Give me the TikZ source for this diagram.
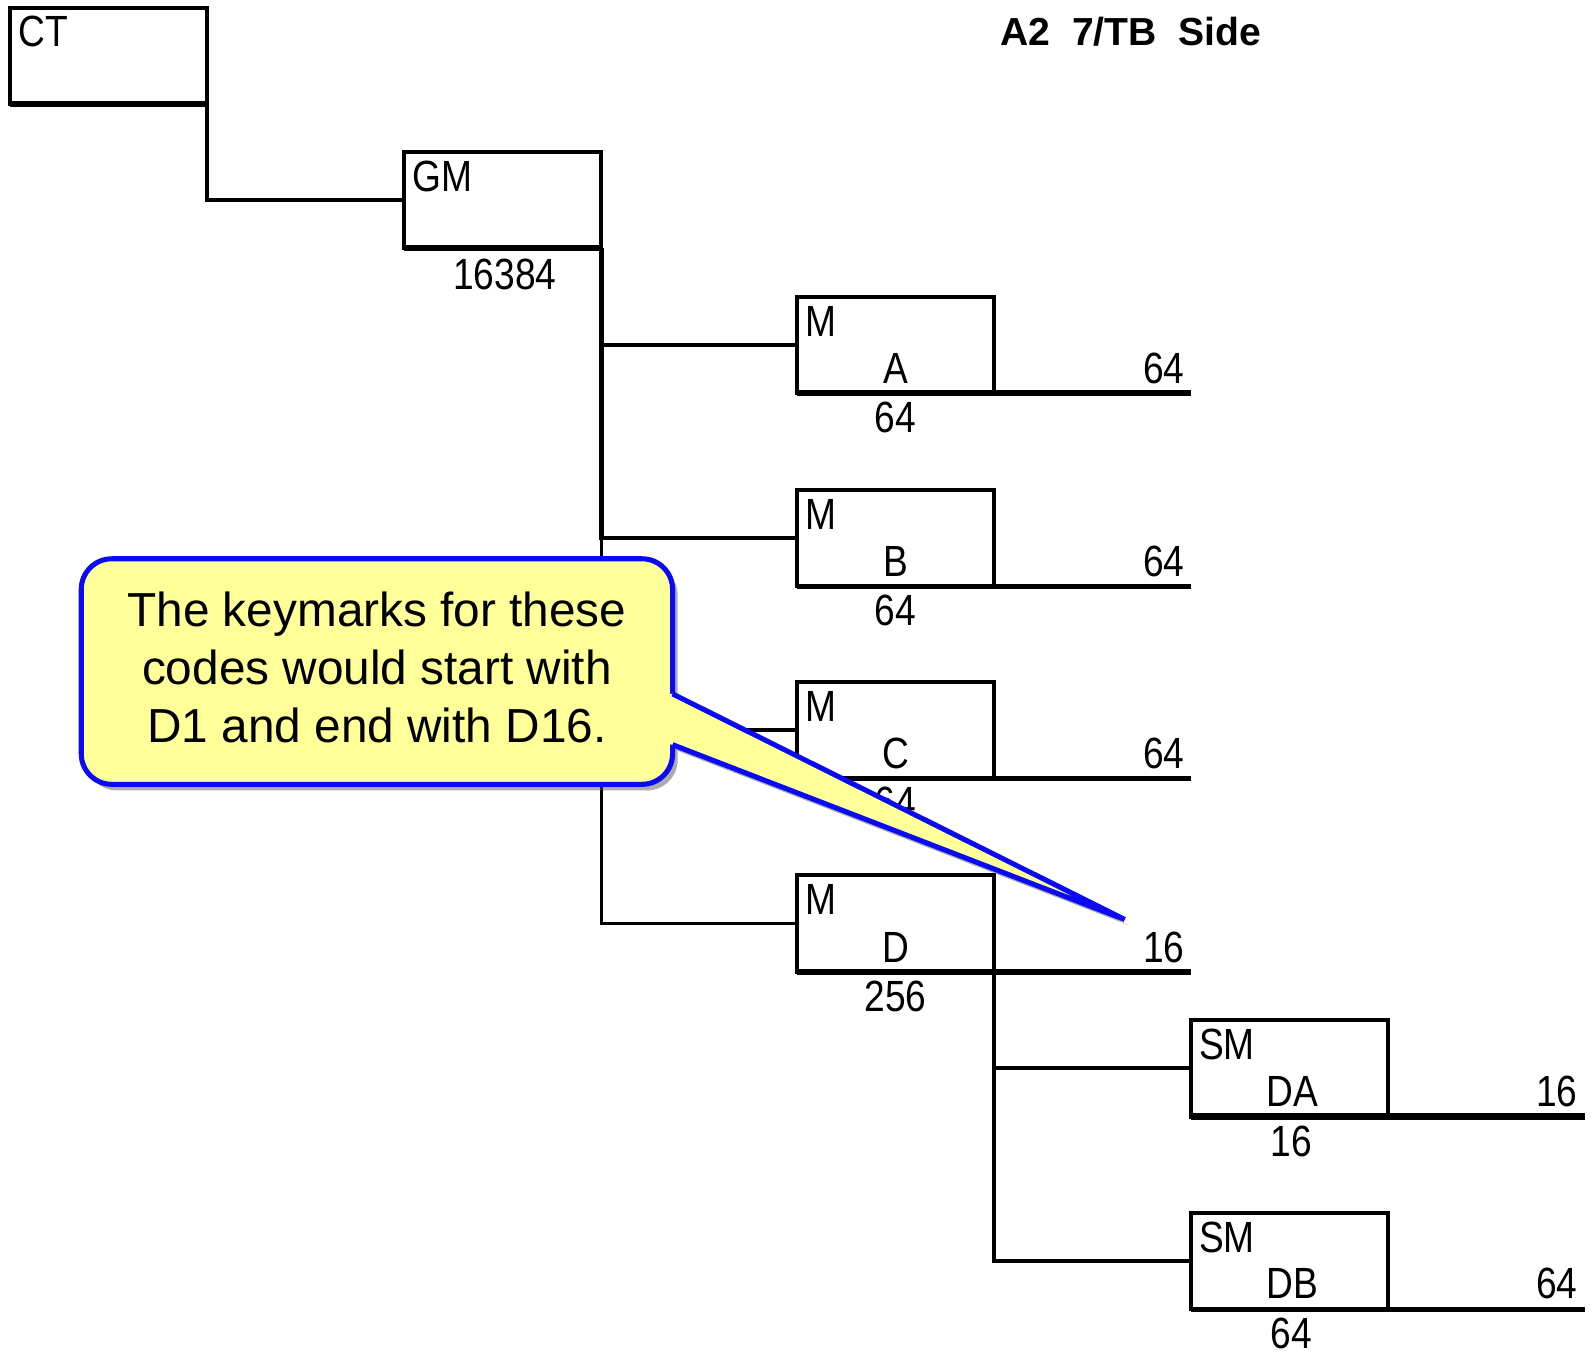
\documentclass[tikz,border=0pt]{standalone}
\usepackage{fontspec}
\setmainfont{Liberation Sans}
\newfontfamily\boxfont[FakeStretch=0.85]{Liberation Sans}
\usetikzlibrary{shadows}
\definecolor{cblue}{RGB}{10,10,245}
\definecolor{cyellow}{RGB}{255,255,153}
\begin{document}
\begin{tikzpicture}[x=1pt,y=-1pt,
  boxn/.style={draw, line width=4pt, minimum width=194pt, minimum height=95pt, inner sep=0pt, outer sep=0pt},
  lbl/.style={font=\boxfont\fontsize{43}{50}\selectfont, inner sep=0pt},
  conn/.style={line width=3.6pt},
  botl/.style={line width=6pt},
  botm/.style={line width=5pt},
  callout/.style={draw=cblue, line width=5pt, fill=cyellow, rounded corners=30pt, inner sep=0pt, outer sep=0pt,
    minimum width=582pt, minimum height=222pt,
    drop shadow={shadow xshift=5pt, shadow yshift=-6pt, opacity=0.5, fill=black!65}},
]
\useasboundingbox (0,0) rectangle (1568,1334);

% title
\node[font=\bfseries\fontsize{38.5}{44}\selectfont, anchor=base, inner sep=0pt] (title) at (1113,45) {A2\ \ 7/TB\ \ Side};

% boxes
\node[boxn, minimum height=94pt] (bCT) at (107,55) {};
\node[boxn] (bGM) at (495,197) {};
\node[boxn] (bA) at (881.5,339.5) {};
\node[boxn] (bB) at (881.5,529.5) {};
\node[boxn] (bC) at (881.5,718.5) {};
\node[boxn, minimum height=96pt] (bD) at (881.5,909) {};
\node[boxn] (bDA) at (1269,1051.5) {};
\node[boxn] (bDB) at (1269,1241) {};

% line ends
\coordinate (eA) at (1172,387);
\coordinate (eB) at (1172,577);
\coordinate (eC) at (1172,766);
\coordinate (eD) at (1172,957);
\coordinate (eDA) at (1560,1099);
\coordinate (eDB) at (1560,1288.5);

% bottom edges and extensions
\draw[botl] (bCT.south west) -- (bCT.south east);
\draw[botl] (bGM.south west) -- (bGM.south east);
\draw[botl] (bA.south west) -- (eA);
\draw[botm] (bB.south west) -- (eB);
\draw[botm] (bC.south west) -- (eC);
\draw[botl] (bD.south west) -- (eD);
\draw[botl] (bDA.south west) -- (eDA);
\draw[botm] (bDB.south west) -- (eDB);

% connectors
\draw[conn] (bCT.south east) |- (bGM.west);
\draw[conn] (bGM.south east) |- (bA.west);
\draw[conn, line width=4.5pt] (bGM.south east) |- (bB.west);
\draw[conn] (bGM.south east) |- (bC.west);
\draw[conn] (bGM.south east) |- (bD.west);
\draw[conn] (bD.south east) |- (bDA.west);
\draw[conn] (bD.south east) |- (bDB.west);

% texts in boxes
\node[lbl, anchor=base west] (tCT) at ([xshift=8pt,yshift=-38pt]bCT.north west) {CT};
\node[lbl, anchor=base west] (tGM) at ([xshift=8pt,yshift=-39pt]bGM.north west) {GM};
\node[lbl, anchor=base] (nGM) at ([xshift=2pt,yshift=-40pt]bGM.south) {16384};

\foreach \b/\l/\n/\r in {A/A/64/64, B/B/64/64, C/C/64/64, D/D/256/16}{
  \node[lbl, anchor=base west] (m\b) at ([xshift=8pt,yshift=-39pt]b\b.north west) {M};
  \node[lbl, anchor=base] (l\b) at ([yshift=10pt]b\b.south) {\l};
  \node[lbl, anchor=base] (n\b) at ([yshift=-39pt]b\b.south) {\n};
  \node[lbl, anchor=base east] (r\b) at ([xshift=-6pt,yshift=10pt]e\b) {\r};
}
\foreach \b/\l/\n/\r in {DA/DA/16/16, DB/DB/64/64}{
  \node[lbl, anchor=base west] (m\b) at ([xshift=8pt,yshift=-39pt]b\b.north west) {SM};
  \node[lbl, anchor=base] (l\b) at ([xshift=3pt,yshift=10pt]b\b.south) {\l};
  \node[lbl, anchor=base] (n\b) at ([xshift=2pt,yshift=-39pt]b\b.south) {\n};
  \node[lbl, anchor=base east] (r\b) at ([xshift=-7pt,yshift=10pt]e\b) {\r};
}

% callout
\node[callout] (note) at (371,661) {};
\coordinate (w1) at (662,683);
\coordinate (w2) at (662,733);
\coordinate (tip) at (1107,905);
\fill[black!65, opacity=0.5] (667,689) -- (1112,911) -- (667,739) -- cycle;
\fill[cyellow] (655,683) -- (w1) -- (tip) -- (w2) -- (655,733) -- cycle;
\draw[cblue, line width=5pt] (w1) -- (tip) -- (w2);
\node[align=center, inner sep=0pt, font=\fontsize{47}{57}\selectfont] (notetext) at ([yshift=4pt]note.center) {The keymarks for these\\codes would start with\\D1 and end with D16.};
\end{tikzpicture}
\end{document}
